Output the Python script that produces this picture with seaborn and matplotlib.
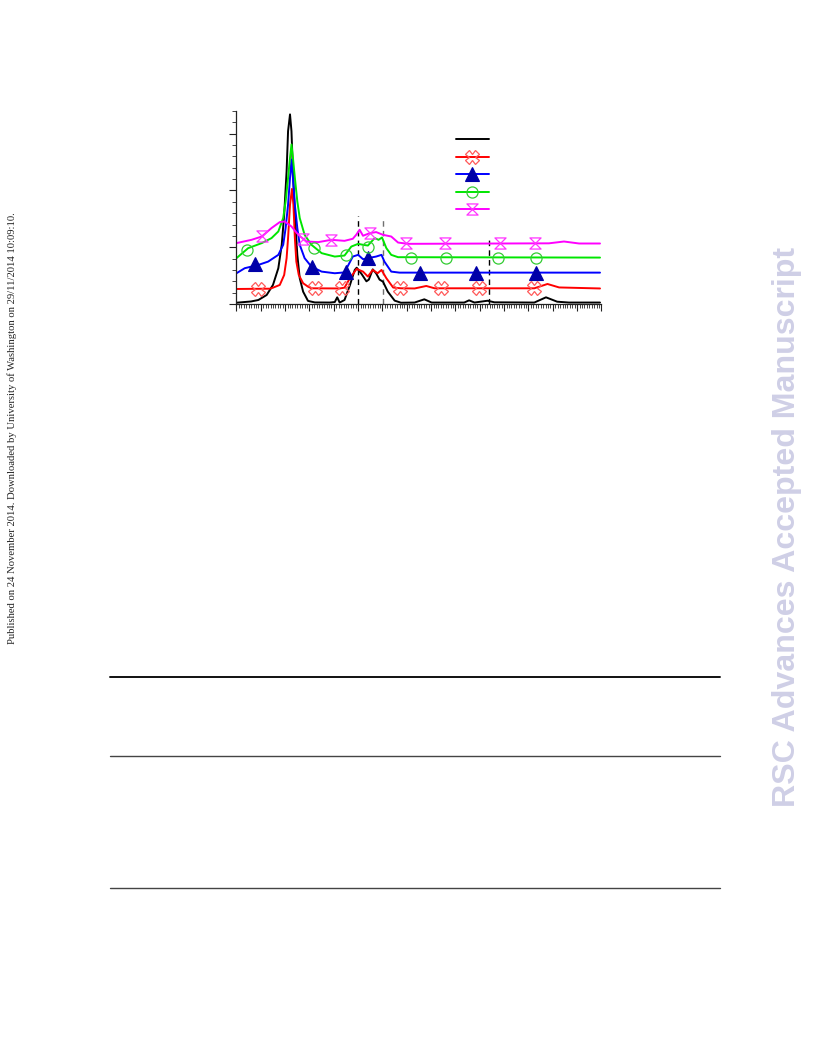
import numpy as np
import pandas as pd
import seaborn as sns
import matplotlib
matplotlib.use("Agg")
import matplotlib.pyplot as plt
from matplotlib.lines import Line2D
from matplotlib.path import Path
from matplotlib.ticker import MultipleLocator, NullFormatter

# curve data (2theta, intensity a.u.)
x_black = [5.0, 8.0, 9.5, 11.2, 12.5, 13.6, 14.3, 14.8, 15.3, 15.6, 16.0, 16.3, 16.6, 17.0,
           17.5, 18.0, 18.7, 19.7, 21.1, 24.2, 25.2, 25.7, 26.2, 27.2, 28.3, 29.3, 29.7,
           30.7, 31.7, 32.2, 33.0, 33.7, 34.4, 35.1, 36.1, 37.5, 38.8, 41.6, 43.6, 45.1,
           51.8, 52.8, 53.9, 56.6, 58.0, 66.2, 68.6, 70.9, 73.3, 79.7]
y_black = [23, 45, 71, 159, 336, 631, 1043, 1573, 2338, 3045, 3340, 3045, 2338, 1573,
           866, 454, 217, 55, 28, 26, 35, 118, 26, 71, 330, 600, 640,
           530, 400, 430, 610, 540, 430, 394, 217, 60, 23, 26, 83, 26,
           26, 65, 26, 58, 30, 26, 118, 41, 26, 26]

x_red = [5.0, 11.9, 12.5, 13.9, 14.8, 15.3, 15.6, 16.0, 16.4, 16.7, 17.0, 17.3, 17.8, 18.7,
         19.7, 20.4, 26.2, 27.2, 28.3, 29.7, 31.0, 32.0, 33.0, 34.0, 34.8, 35.8, 37.2,
         38.8, 41.6, 44.0, 45.7, 66.2, 68.9, 71.3, 79.7]
y_red = [265, 270, 288, 336, 512, 808, 1161, 1749, 2027, 1749, 1161, 747, 512, 366,
         306, 277, 274, 288, 454, 618, 571, 484, 601, 542, 600, 454, 290,
         277, 274, 318, 277, 277, 353, 292, 274]

x_blue = [5.0, 6.7, 9.5, 11.5, 13.6, 14.6, 15.1, 15.6, 16.0, 16.3, 16.6, 17.0, 17.5, 18.0,
          19.0, 20.4, 22.5, 25.2, 27.2, 28.9, 30.0, 31.0, 32.0, 33.7, 34.8, 35.4, 36.8,
          38.5, 79.7]
y_blue = [542, 631, 689, 747, 866, 1043, 1338, 1749, 2221, 2544, 2221, 1749, 1338, 1043,
          808, 659, 571, 542, 557, 836, 866, 790, 808, 836, 866, 747, 571,
          553, 553]

x_green = [5.0, 7.4, 10.2, 12.2, 13.6, 14.6, 15.1, 15.6, 16.0, 16.3, 16.6, 17.0, 17.5, 18.0,
           19.0, 20.4, 22.5, 25.2, 27.2, 28.6, 30.0, 31.0, 32.0, 33.4, 34.2, 34.9, 35.8,
           36.8, 38.2, 79.7]
y_green = [808, 984, 1073, 1161, 1278, 1514, 1808, 2221, 2574, 2810, 2574, 2221, 1808, 1514,
           1219, 1043, 896, 836, 854, 1012, 1060, 1043, 1030, 1161, 1131, 1172, 984,
           866, 825, 818]

x_mag = [5.0, 8.1, 10.2, 12.2, 13.9, 14.9, 16.3, 17.7, 19.4, 21.8, 24.5, 27.2, 28.9, 29.6,
         30.3, 31.0, 32.4, 33.7, 35.1, 36.8, 38.2, 40.2, 69.2, 72.3, 75.4, 79.7]
y_mag = [1073, 1131, 1189, 1338, 1443, 1454, 1366, 1219, 1101, 1090, 1131, 1113, 1149, 1219,
         1308, 1202, 1249, 1267, 1219, 1189, 1083, 1060, 1069, 1101, 1066, 1066]

# symbol positions along each curve
mx_red = [9.5, 21.2, 26.6, 38.5, 47.0, 54.9, 66.2]
my_red = [272, 277, 274, 277, 277, 277, 277]
mx_blue = [8.9, 20.5, 27.6, 32.1, 42.8, 54.2, 66.6]
my_blue = [700, 650, 565, 808, 553, 553, 553]
mx_green = [7.2, 20.9, 27.6, 32.1, 40.9, 48.1, 58.8, 66.5]
my_green = [960, 980, 866, 1012, 818, 818, 818, 818]
mx_mag = [10.3, 18.6, 24.5, 32.5, 39.9, 47.9, 59.2, 66.4]
my_mag = [1190, 1150, 1120, 1249, 1075, 1075, 1075, 1075]

# dashed reference lines
ref_x = [29.9, 35.2, 56.9]
ref_top = [1555, 1484, 1202]
ref_col = ['black', '#707070', 'black']

series = ['a', 'b', 'c', 'd', 'e']
line_cols = ['#000000', '#ff0000', '#0000ff', '#00e600', '#ff00ff']

frames = []
for name, xs, ys in zip(series, [x_black, x_red, x_blue, x_green, x_mag],
                        [y_black, y_red, y_blue, y_green, y_mag]):
    frames.append(pd.DataFrame({'two_theta': xs, 'intensity': ys, 'series': name}))
df = pd.concat(frames, ignore_index=True)

sns.set_theme(style='ticks')
plt.rcParams['font.family'] = ['DejaVu Sans']

fig = plt.figure(figsize=(8.16, 10.56), dpi=100)
ax = fig.add_axes([0.2898, 0.7121, 0.4473, 0.1828])

sns.lineplot(data=df, x='two_theta', y='intensity', hue='series', palette=line_cols,
             sort=False, estimator=None, legend=False, lw=1.4, ax=ax)

hourglass = Path([(-1, 1), (1, 1), (-1, -1), (1, -1), (-1, 1)],
                 [Path.MOVETO, Path.LINETO, Path.LINETO, Path.LINETO, Path.CLOSEPOLY])

mk = [dict(marker='X', ms=10, mfc='none', mec='#ff5a5a', mew=0.9),
      dict(marker='^', ms=10, mfc='#0000a8', mec='#0000a8', mew=0.8),
      dict(marker='o', ms=8, mfc='none', mec='#33cc33', mew=0.9),
      dict(marker=hourglass, ms=8, mfc='none', mec='#ff33ff', mew=0.9)]

for xs, ys, m in zip([mx_red, mx_blue, mx_green, mx_mag], [my_red, my_blue, my_green, my_mag], mk):
    ax.plot(xs, ys, ls='none', zorder=4, **m)

ax.vlines(ref_x, 0, ref_top, colors=ref_col, linestyles=(0, (4, 3)), lw=1.0, zorder=1)

ax.set_xlim(5, 80)
ax.set_ylim(0, 3400)
ax.set_xlabel('')
ax.set_ylabel('')
ax.xaxis.set_major_locator(MultipleLocator(5))
ax.xaxis.set_minor_locator(MultipleLocator(0.5))
ax.yaxis.set_major_locator(MultipleLocator(1000))
ax.yaxis.set_minor_locator(MultipleLocator(200))
ax.xaxis.set_major_formatter(NullFormatter())
ax.yaxis.set_major_formatter(NullFormatter())
ax.tick_params(which='major', direction='out', length=5, width=0.8, color='#222222')
ax.tick_params(which='minor', direction='out', length=2.6, width=0.7, color='#444444')
sns.despine(ax=ax)
for s in ['left', 'bottom']:
    ax.spines[s].set_linewidth(0.9)
    ax.spines[s].set_color('#222222')

# legend (labels stripped in the source)
handles = [Line2D([], [], color=line_cols[0], lw=1.4)]
for c, m in zip(line_cols[1:], mk):
    handles.append(Line2D([], [], color=c, lw=1.4, **m))
ax.legend(handles=handles, labels=[' '] * 5, loc='upper left', bbox_to_anchor=(0.602, 0.883),
          frameon=False, fontsize=9, handlelength=2.6, labelspacing=0.36, numpoints=1,
          borderaxespad=0, borderpad=0)

# page decorations
fig.text(0.0147, 0.5942, 'Published on 24 November 2014. Downloaded by University of Washington on 29/11/2014 10:09:10.',
         rotation=90, ha='center', va='center', fontsize=7.65, family=['Liberation Serif'], color='#222222')
fig.text(0.9645, 0.501, 'RSC Advances Accepted Manuscript', rotation=90, ha='center', va='center',
         fontsize=23.1, fontweight='bold', family=['Liberation Sans'], color='#cfcfe6')

for yy, lw, col in [(676.5, 1.4, '#111111'), (755.5, 1.0, '#444444'), (888.0, 1.0, '#444444')]:
    fig.add_artist(Line2D([110 / 816, 720 / 816], [1 - yy / 1056] * 2,
                          transform=fig.transFigure, color=col, lw=lw))

fig.savefig('out.png', dpi=100)
